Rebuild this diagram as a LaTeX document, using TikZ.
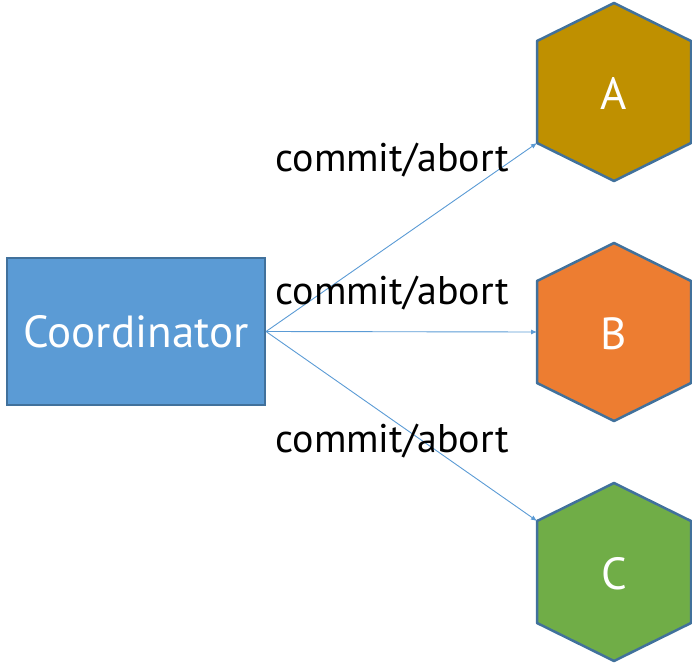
\documentclass[tikz,border=0pt]{standalone}
\usepackage{fontspec}
\setmainfont{PT Sans}
\usetikzlibrary{arrows.meta}
\definecolor{boxblue}{HTML}{5B9BD5}
\definecolor{edgeblue}{HTML}{41719C}
\definecolor{hexA}{HTML}{BF9000}
\definecolor{hexB}{HTML}{ED7D31}
\definecolor{hexC}{HTML}{70AD47}
\tikzset{
  link/.style={draw=boxblue, line width=0.9pt, -{Latex[length=6pt,width=5pt]}},
  msg/.style={font=\fontsize{40}{40}\selectfont, text=black},
  hexlabel/.style={font=\fontsize{45}{45}\selectfont, text=white}
}
\begin{document}
\begin{tikzpicture}[x=1pt,y=-1pt]
\useasboundingbox (0,0) rectangle (692,663);
% coordinator box
\node[draw=edgeblue, line width=2pt, fill=boxblue, minimum width=258pt, minimum height=147pt,
  inner sep=0pt, font=\fontsize{45}{45}\selectfont, text=white] (coord) at (136,331.5) {Coordinator};
% participants
\foreach \name/\y/\col in {A/92/hexA, B/332/hexB, C/572/hexC} {
  \coordinate (\name-t) at (614,\y-89);
  \coordinate (\name-ur) at (691,\y-51);
  \coordinate (\name-lr) at (691,\y+51);
  \coordinate (\name-b) at (614,\y+89);
  \coordinate (\name-ll) at (537,\y+51);
  \coordinate (\name-ul) at (537,\y-51);
  \coordinate (\name-l) at (537,\y);
  \draw[draw=edgeblue, line width=2.5pt, fill=\col, line join=round]
    (\name-t) -- (\name-ur) -- (\name-lr) -- (\name-b) -- (\name-ll) -- (\name-ul) -- cycle;
  \node[hexlabel] (\name) at (614,\y+2) {\name};
}
% messages
\draw[link] (coord.east) -- (A-ll);
\draw[link] (coord.east) -- (B-l);
\draw[link] (coord.east) -- (C-ul);
\node[msg] (msgA) at (392,160) {commit/abort};
\node[msg] (msgB) at (392,293) {commit/abort};
\node[msg] (msgC) at (392,441) {commit/abort};
\end{tikzpicture}
\end{document}
